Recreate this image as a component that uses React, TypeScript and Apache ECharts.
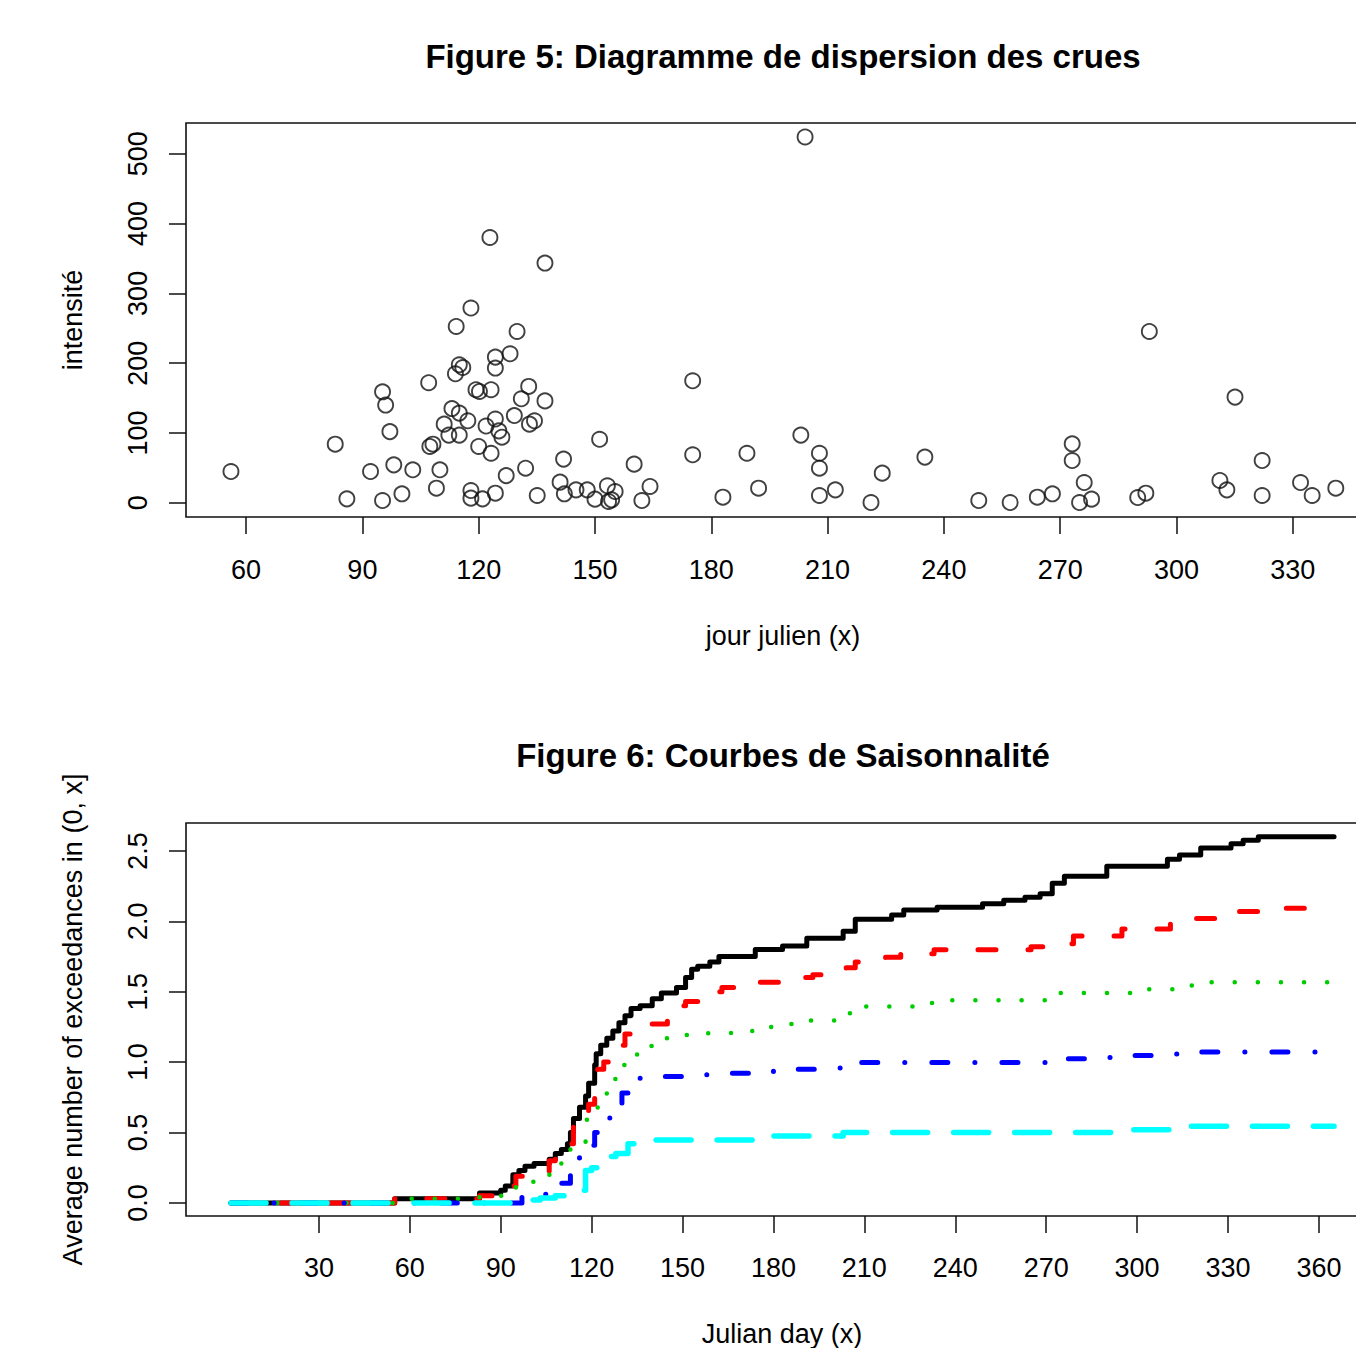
import React, { useEffect, useRef } from "react";
import * as echarts from "echarts";

const FONT = "'Liberation Sans', Arial, Helvetica, sans-serif";

// Figure 5: scatter (jour julien, intensité)
const scatterDays = [
  56.1, 83.0, 86.0, 92.1, 95.2, 96.0, 95.2, 97.1, 98.1, 100.2,
  103.0, 107.1, 107.4, 108.2, 109.1, 110.0, 111.1, 112.3, 113.1, 114.2,
  114.0, 115.0, 115.9, 115.0, 115.0, 117.2, 118.0, 118.0, 118.0, 119.3,
  120.2, 120.0, 121.0, 121.9, 122.9, 123.2, 123.2, 124.3, 124.3, 124.3,
  124.3, 125.2, 126.0, 127.1, 128.1, 129.2, 129.9, 131.0, 132.1, 132.9,
  133.1, 134.4, 135.1, 137.1, 137.1, 141.9, 141.0, 142.1, 145.1, 148.0,
  151.2, 150.0, 153.2, 155.2, 153.5, 154.3, 160.1, 162.1, 164.2, 175.2,
  175.2, 183.0, 189.2, 192.2, 204.2, 203.1, 207.9, 207.9, 207.9, 212.0,
  221.2, 224.1, 235.1, 249.0, 257.1, 264.1, 268.0, 273.1, 273.1, 276.2,
  275.0, 278.1, 290.0, 292.1, 293.0, 311.2, 313.0, 315.1, 322.1, 322.1,
  332.0, 335.0, 341.1,
];
const scatterValues = [
  44.8, 84, 5.7, 44.8, 159, 140, 3.3, 102, 54.4, 12.9,
  47.3, 172, 80.7, 84, 21, 47.3, 112.7, 97, 135, 252.6,
  184.8, 197.7, 193.8, 128.5, 97, 117.5, 279, 17.6, 6.7, 162,
  159.5, 80.7, 5.7, 110, 380, 162, 71, 208.7, 193, 120,
  13.8, 103, 94, 39, 213.5, 125, 245.4, 149, 49.6, 166.7,
  112.7, 117.5, 10.5, 343.4, 146, 62.6, 29.6, 12.9, 18.6, 18.6,
  91, 5.3, 24.4, 16.2, 1.9, 4.3, 55.4, 3.3, 23.4, 174.8,
  68.8, 8.1, 71, 21, 524, 97, 71, 49.6, 10.5, 18.6,
  0.4, 42.5, 65.5, 3.3, 0.4, 8.1, 12.9, 84.5, 60.6, 29.1,
  0.4, 5.3, 7.6, 13.8, 245.4, 32, 18.6, 151.4, 60.6, 10.5,
  29.1, 10.5, 21,
];
const scatterXTicks = [60, 90, 120, 150, 180, 210, 240, 270, 300, 330];
const scatterYTicks = [0, 100, 200, 300, 400, 500];

// Figure 6: seasonality step curves (Julian day, average exceedances)
const seasonXTicks = [30, 60, 90, 120, 150, 180, 210, 240, 270, 300, 330, 360];
const seasonYTicks = [0, 0.5, 1, 1.5, 2, 2.5];

const blackDays = [
  1, 55, 83, 90, 91.5, 94, 96, 98, 101, 106,
  108, 110, 112, 113, 114, 116, 118, 119, 121, 121.5,
  123, 125, 127, 129, 131, 133, 136, 140, 143, 148,
  151, 153, 155, 159, 162, 174, 183, 191, 203, 207,
  219, 223, 234, 249, 256, 263, 268, 272, 276, 290,
  310, 314, 321, 331, 335, 340, 365,
];
const blackValues = [
  0, 0.03, 0.07, 0.09, 0.12, 0.2, 0.23, 0.26, 0.28, 0.31,
  0.35, 0.38, 0.42, 0.5, 0.6, 0.68, 0.76, 0.85, 0.98, 1.06,
  1.12, 1.17, 1.22, 1.28, 1.33, 1.38, 1.4, 1.45, 1.49, 1.53,
  1.6, 1.66, 1.68, 1.71, 1.75, 1.8, 1.825, 1.88, 1.93, 2.015,
  2.045, 2.08, 2.1, 2.125, 2.15, 2.17, 2.195, 2.27, 2.32, 2.39,
  2.44, 2.47, 2.52, 2.55, 2.575, 2.6, 2.6,
];
const redDays = [
  1, 55, 83, 92, 95, 102, 106, 108, 112, 114,
  116, 119, 121, 122, 124, 127, 129, 131, 135, 139,
  145, 148, 151, 158, 163, 173, 189, 193, 204, 207,
  217, 222, 233, 265, 270, 279, 295, 311, 315, 327,
  331, 340, 365,
];
const redValues = [
  0, 0.03, 0.05, 0.12, 0.19, 0.22, 0.3, 0.35, 0.42, 0.55,
  0.63, 0.7, 0.75, 0.95, 1.0, 1.05, 1.12, 1.2, 1.23, 1.27,
  1.37, 1.4, 1.43, 1.5, 1.53, 1.567, 1.6, 1.62, 1.67, 1.71,
  1.745, 1.77, 1.797, 1.82, 1.84, 1.896, 1.946, 2.0, 2.02, 2.045,
  2.07, 2.093, 2.093,
];
const greenDays = [
  1, 58, 82, 90, 95, 97, 104, 110, 113, 118,
  122, 125, 129, 132, 135, 142, 150, 158, 166, 173,
  181, 188, 204, 210, 226, 234, 274, 298, 314, 322,
  365,
];
const greenValues = [
  0, 0.03, 0.04, 0.05, 0.12, 0.15, 0.2, 0.29, 0.43, 0.59,
  0.73, 0.88, 0.98, 1.05, 1.115, 1.17, 1.193, 1.205, 1.22, 1.25,
  1.27, 1.295, 1.347, 1.395, 1.42, 1.44, 1.49, 1.518, 1.544, 1.567,
  1.567,
];
const blueDays = [
  1, 97, 106, 110, 113, 116, 118, 121, 123, 126,
  128, 130, 133, 136, 143, 158, 180, 202, 208, 276,
  291, 298, 313, 320, 365,
];
const blueValues = [
  0, 0.062, 0.1, 0.14, 0.3, 0.35, 0.41, 0.5, 0.55, 0.65,
  0.7, 0.78, 0.84, 0.886, 0.898, 0.92, 0.95, 0.969, 0.997, 1.023,
  1.033, 1.047, 1.057, 1.071, 1.071,
];
const cyanDays = [1, 94, 103, 108, 111, 118, 120, 123, 125, 128, 132, 135, 173, 203, 296, 316, 365];
const cyanValues = [0, 0.02, 0.035, 0.05, 0.09, 0.23, 0.25, 0.3, 0.33, 0.35, 0.42, 0.447, 0.476, 0.5, 0.52, 0.544, 0.544];

const pairs = (xs: number[], ys: number[]) => xs.map((x, i) => [x, ys[i]]);

const tickFont = { fontFamily: FONT, fontSize: 27, color: "#000" };
const nameFont = { fontFamily: FONT, fontSize: 27, color: "#000" };

function stepLine(name: string, xs: number[], ys: number[], color: string, width: number, type: any) {
  return {
    name,
    type: "line",
    xAxisIndex: 1,
    yAxisIndex: 1,
    data: pairs(xs, ys),
    step: "end",
    showSymbol: false,
    symbol: "none",
    silent: true,
    lineStyle: { color, width, type, cap: "round", join: "round" },
  };
}

const tickStyle = { color: "#111", width: 1.5 };

export default function App() {
  const ref = useRef<HTMLDivElement>(null);
  useEffect(() => {
    if (!ref.current) return;
    const chart = echarts.init(ref.current, null, { renderer: "svg" });
    const option: any = {
      animation: false,
      backgroundColor: "#ffffff",
      textStyle: { fontFamily: FONT },
      title: [
        {
          text: "Figure 5: Diagramme de dispersion des crues",
          left: 783,
          top: 40,
          textAlign: "center",
          padding: 0,
          textStyle: { fontFamily: FONT, fontSize: 33, fontWeight: "bold", color: "#000" },
        },
        {
          text: "Figure 6: Courbes de Saisonnalité",
          left: 783,
          top: 739,
          textAlign: "center",
          padding: 0,
          textStyle: { fontFamily: FONT, fontSize: 33, fontWeight: "bold", color: "#000" },
        },
      ],
      grid: [
        { left: 186, top: 123, width: 1194, height: 394, show: true, borderColor: "#111", borderWidth: 1.6, backgroundColor: "transparent" },
        { left: 186, top: 823, width: 1192, height: 393, show: true, borderColor: "#111", borderWidth: 1.6, backgroundColor: "transparent" },
      ],
      xAxis: [
        {
          type: "value",
          gridIndex: 0,
          min: 44.5,
          max: 352.5,
          name: "jour julien (x)",
          nameLocation: "middle",
          nameGap: 105,
          nameTextStyle: nameFont,
          axisLine: { show: false, onZero: false },
          splitLine: { show: false },
          axisTick: { show: true, length: 17, lineStyle: tickStyle, customValues: scatterXTicks },
          axisLabel: { ...tickFont, margin: 39, customValues: scatterXTicks },
        },
        {
          type: "value",
          gridIndex: 1,
          min: -13.86,
          max: 379.5,
          name: "Julian day (x)",
          nameLocation: "middle",
          nameGap: 104,
          nameTextStyle: nameFont,
          axisLine: { show: false, onZero: false },
          splitLine: { show: false },
          axisTick: { show: true, length: 17, lineStyle: tickStyle, customValues: seasonXTicks },
          axisLabel: { ...tickFont, margin: 38, customValues: seasonXTicks },
        },
      ],
      yAxis: [
        {
          type: "value",
          gridIndex: 0,
          min: -20.3,
          max: 544,
          name: "intensité",
          nameLocation: "middle",
          nameGap: 100,
          nameTextStyle: nameFont,
          axisLine: { show: false, onZero: false },
          splitLine: { show: false },
          axisTick: { show: true, length: 17, lineStyle: tickStyle, customValues: scatterYTicks },
          axisLabel: { ...tickFont, margin: 35, rotate: 90, customValues: scatterYTicks },
        },
        {
          type: "value",
          gridIndex: 1,
          min: -0.093,
          max: 2.698,
          name: "Average number of exceedances in (0, x]",
          nameLocation: "middle",
          nameGap: 100,
          nameTextStyle: nameFont,
          axisLine: { show: false, onZero: false },
          splitLine: { show: false },
          axisTick: { show: true, length: 17, lineStyle: tickStyle, customValues: seasonYTicks },
          axisLabel: {
            ...tickFont,
            margin: 35,
            rotate: 90,
            customValues: seasonYTicks,
            formatter: (v: number) => v.toFixed(1),
          },
        },
      ],
      series: [
        {
          name: "crues",
          type: "scatter",
          xAxisIndex: 0,
          yAxisIndex: 0,
          data: pairs(scatterDays, scatterValues),
          symbol: "circle",
          symbolSize: 15,
          silent: true,
          itemStyle: { color: "transparent", borderColor: "#111", borderWidth: 1.9 },
        },
        stepLine("total", blackDays, blackValues, "#000000", 5, "solid"),
        stepLine("red", redDays, redValues, "#ff0000", 5, [18, 32]),
        stepLine("green", greenDays, greenValues, "#00cd00", 4.5, [0.1, 23]),
        stepLine("blue", blueDays, blueValues, "#0000ff", 5, [16, 27, 0.1, 27]),
        stepLine("cyan", cyanDays, cyanValues, "#00ffff", 5.5, [35, 26]),
      ],
    };
    chart.setOption(option);
    return () => chart.dispose();
  }, []);
  return (
    <div
      style={{ position: "absolute", left: 0, top: 0, width: 1356, height: 1348, overflow: "hidden", background: "#fff" }}
    >
      <div ref={ref} style={{ width: 1400, height: 1348 }} />
    </div>
  );
}
